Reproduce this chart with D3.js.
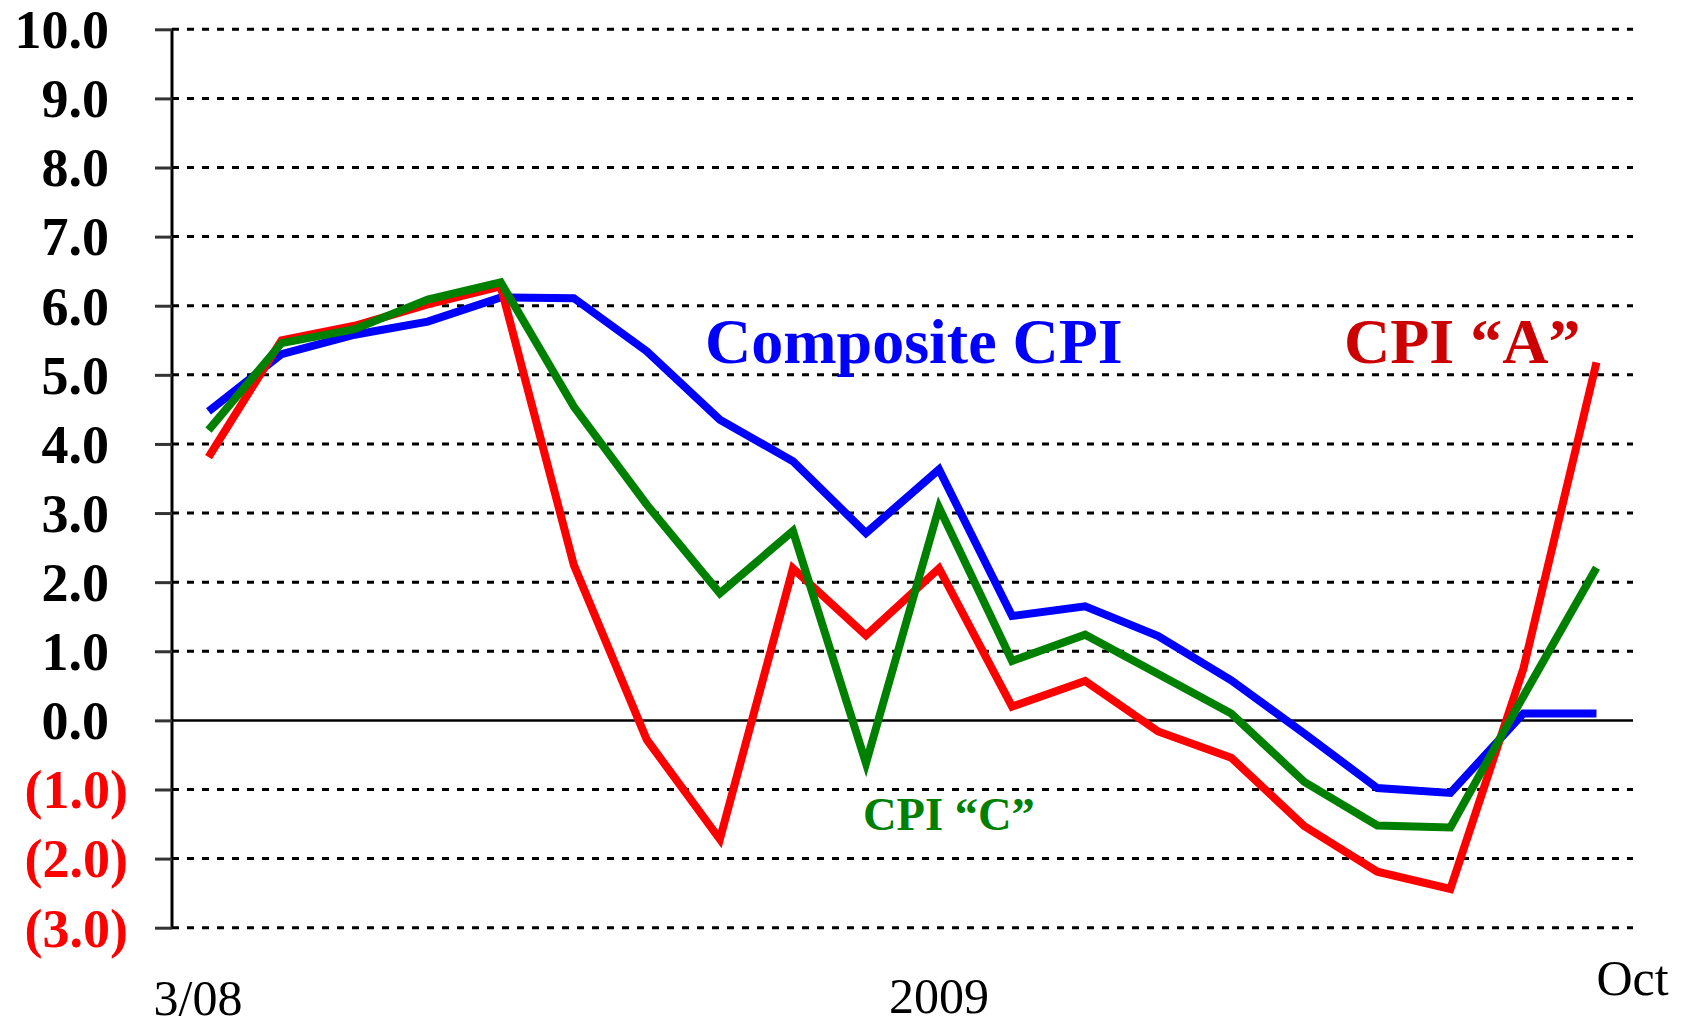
<!DOCTYPE html>
<html>
<head>
<meta charset="utf-8">
<script src="https://cdn.jsdelivr.net/npm/d3@7"></script>
<style>
  body { margin: 0; background: #fff; }
  svg { display: block; font-family: "Liberation Serif", "Times New Roman", serif; }
</style>
</head>
<body>
<svg id="chart" width="1693" height="1029"></svg>
<script>
// monthly CPI inflation, Mar 2008 - Oct 2009
const months = ["Mar 08", "Apr 08", "May 08", "Jun 08", "Jul 08", "Aug 08", "Sep 08", "Oct 08", "Nov 08", "Dec 08",
  "Jan 09", "Feb 09", "Mar 09", "Apr 09", "May 09", "Jun 09", "Jul 09", "Aug 09", "Sep 09", "Oct 09"];
const composite = [4.47, 5.30, 5.58, 5.77, 6.12, 6.11, 5.34, 4.35, 3.75, 2.71, 3.63, 1.51, 1.65, 1.22, 0.58, -0.19, -0.98, -1.05, 0.10, 0.10];
const cpiA = [3.81, 5.50, 5.71, 6.02, 6.28, 2.25, -0.28, -1.72, 2.20, 1.23, 2.20, 0.20, 0.57, -0.16, -0.54, -1.53, -2.19, -2.44, 0.75, 5.18];
const cpiC = [4.20, 5.46, 5.66, 6.09, 6.34, 4.54, 3.12, 1.84, 2.74, -0.62, 3.08, 0.86, 1.24, 0.67, 0.10, -0.89, -1.52, -1.55, 0.35, 2.21];
const yTicks = [10, 9, 8, 7, 6, 5, 4, 3, 2, 1, 0, -1, -2, -3];
const xLabels = ["3/08", "2009", "Oct"];
const xLabelAt = ["Mar 08", "Jan 09", "Oct 09"];

const svg = d3.select("#chart");
const plotL = 172, plotR = 1633, plotT = 29.3, plotB = 927.7;

const x = d3.scalePoint().domain(months).range([plotL, plotR]).padding(0.5);
const y = d3.scaleLinear().domain([-3, 10]).range([plotB, plotT]);

// dotted grid
svg.append("g").selectAll("line").data(yTicks.filter(d => d !== 0)).enter().append("line")
  .attr("x1", plotL).attr("x2", plotR)
  .attr("y1", d => y(d)).attr("y2", d => y(d))
  .attr("stroke", "#000").attr("stroke-width", 3).attr("stroke-dasharray", "7,8");

// zero line
svg.append("line").attr("x1", plotL).attr("x2", plotR).attr("y1", y(0)).attr("y2", y(0))
  .attr("stroke", "#000").attr("stroke-width", 2.5);

// y axis
const yAxis = svg.append("g").attr("transform", `translate(${plotL},0)`)
  .call(d3.axisLeft(y).tickValues(yTicks).tickSize(17).tickPadding(46)
    .tickFormat(d => d < 0 ? `(${d3.format(".1f")(-d)})` : d3.format(".1f")(d)));
yAxis.select(".domain").attr("stroke", "#000").attr("stroke-width", 3).attr("d", `M0,${plotT}V${plotB}`);
yAxis.selectAll(".tick line").attr("stroke", "#333").attr("stroke-width", 3);
yAxis.selectAll(".tick text")
  .attr("font-family", "Liberation Serif").attr("font-weight", "bold").attr("font-size", 54)
  .attr("fill", d => d < 0 ? "#ff0000" : "#000")
  .attr("dx", d => d < 0 ? 19 : 0).attr("dy", "0.34em");

// series lines
const line = d3.line().x((d, i) => x(months[i])).y(d => y(d));
[[composite, "#0000ff"], [cpiA, "#ff0000"], [cpiC, "#008000"]].forEach(function(s) {
  svg.append("path").attr("d", line(s[0])).attr("fill", "none")
    .attr("stroke", s[1]).attr("stroke-width", 8).attr("stroke-linejoin", "miter");
});

// x labels
const xOff = [[-55, 1015, "start"], [0, 1013, "middle"], [0, 995, "start"]];
svg.append("g").selectAll("text").data(xLabels).enter().append("text")
  .attr("x", (d, i) => x(xLabelAt[i]) + xOff[i][0])
  .attr("y", (d, i) => xOff[i][1])
  .attr("text-anchor", (d, i) => xOff[i][2])
  .attr("font-size", 50).attr("fill", "#000")
  .text(d => d);

// series names
svg.append("text").attr("x", 705).attr("y", 363).attr("font-size", 64).attr("font-weight", "bold")
  .attr("fill", "#0000ff").text("Composite CPI");
svg.append("text").attr("x", 1344).attr("y", 363).attr("font-size", 64).attr("font-weight", "bold")
  .attr("fill", "#cc0000").text("CPI \u201cA\u201d");
svg.append("text").attr("x", 863).attr("y", 830).attr("font-size", 46.5).attr("font-weight", "bold")
  .attr("fill", "#008000").text("CPI \u201cC\u201d");
</script>
</body>
</html>
